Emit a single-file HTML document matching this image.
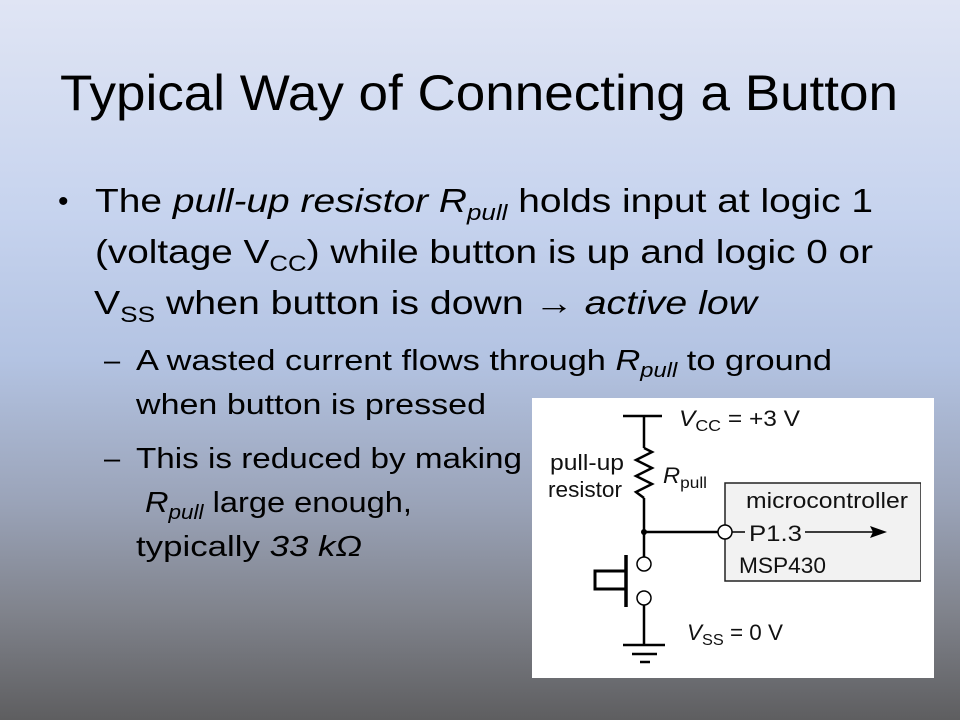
<!DOCTYPE html>
<html><head><meta charset="utf-8"><style>
html,body{margin:0;padding:0;width:960px;height:720px;overflow:hidden}
svg{display:block}
</style></head><body>
<svg width="960" height="720" viewBox="0 0 960 720" xmlns="http://www.w3.org/2000/svg" font-family="Liberation Sans, sans-serif">
<defs>
<linearGradient id="bg" x1="0" y1="0" x2="0" y2="1">
<stop offset="0" stop-color="#e0e5f4"/>
<stop offset="0.3" stop-color="#c6d3ee"/>
<stop offset="0.5" stop-color="#b3c3e2"/>
<stop offset="0.7" stop-color="#9aa3b8"/>
<stop offset="0.85" stop-color="#80838c"/>
<stop offset="1" stop-color="#5e5e60"/>
</linearGradient>
</defs>
<rect width="960" height="720" fill="url(#bg)"/>
<text x="60" y="110" font-size="50" fill="#000" textLength="838" lengthAdjust="spacingAndGlyphs">Typical Way of Connecting a Button</text>
<text x="58" y="211" font-size="30" fill="#000">•</text>
<g font-size="33" fill="#000">
<text x="95" y="212" textLength="778" lengthAdjust="spacingAndGlyphs">The <tspan font-style="italic">pull-up resistor R</tspan><tspan font-style="italic" font-size="22" dy="8">pull</tspan><tspan dy="-8"> holds input at logic 1</tspan></text>
<text x="95" y="263" textLength="778" lengthAdjust="spacingAndGlyphs">(voltage V<tspan font-size="22" dy="8">CC</tspan><tspan dy="-8">) while button is up and logic 0 or</tspan></text>
<text x="94" y="314" textLength="663" lengthAdjust="spacingAndGlyphs">V<tspan font-size="22" dy="8">SS</tspan><tspan dy="-8"> when button is down </tspan><tspan font-weight="bold">→</tspan><tspan> </tspan><tspan font-style="italic">active low</tspan></text>
</g>
<g font-size="29" fill="#000">
<text x="104" y="370">–</text>
<text x="136" y="370" textLength="696" lengthAdjust="spacingAndGlyphs">A wasted current flows through <tspan font-style="italic">R</tspan><tspan font-style="italic" font-size="20" dy="7">pull</tspan><tspan dy="-7"> to ground</tspan></text>
<text x="136" y="414" textLength="350" lengthAdjust="spacingAndGlyphs">when button is pressed</text>
<text x="104" y="468">–</text>
<text x="136" y="468" textLength="386" lengthAdjust="spacingAndGlyphs">This is reduced by making</text>
<text x="145" y="512" textLength="267" lengthAdjust="spacingAndGlyphs"><tspan font-style="italic">R</tspan><tspan font-style="italic" font-size="20" dy="7">pull</tspan><tspan dy="-7"> large enough,</tspan></text>
<text x="136" y="556" textLength="226" lengthAdjust="spacingAndGlyphs">typically <tspan font-style="italic">33 kΩ</tspan></text>
</g>
<!-- circuit -->
<rect x="532" y="398" width="402" height="280" fill="#fff"/>
<g stroke="#000" stroke-width="2.5" fill="none">
<line x1="623" y1="416" x2="662" y2="416"/>
<line x1="644" y1="416" x2="644" y2="448"/>
<polyline points="644,448 652,452 636,460 652,468 636,476 652,484 636,492 644,498"/>
<line x1="644" y1="498" x2="644" y2="557"/>
<line x1="644" y1="532" x2="718" y2="532"/>
<line x1="644" y1="605" x2="644" y2="645"/>
<line x1="623" y1="645" x2="665" y2="645"/>
<line x1="632" y1="654" x2="657" y2="654"/>
<line x1="640" y1="662" x2="650" y2="662"/>
</g>
<rect x="725" y="483" width="196" height="98" fill="#f2f2f2" stroke="#222" stroke-width="1.5"/>
<rect x="921" y="482" width="13" height="100" fill="#fff"/>
<circle cx="644" cy="532" r="3" fill="#000"/>
<circle cx="725" cy="532" r="7" fill="#fff" stroke="#000" stroke-width="1.5"/>
<line x1="732" y1="532" x2="745" y2="532" stroke="#000" stroke-width="1.5"/>
<line x1="805" y1="532" x2="875" y2="532" stroke="#000" stroke-width="1.5"/>
<polygon points="887,532 870,526 873,532 870,538" fill="#000"/>
<circle cx="644" cy="564" r="7" fill="#fff" stroke="#000" stroke-width="1.5"/>
<circle cx="644" cy="598" r="7" fill="#fff" stroke="#000" stroke-width="1.5"/>
<line x1="626" y1="555" x2="626" y2="607" stroke="#000" stroke-width="3.5"/>
<polyline points="626,571 595,571 595,589 626,589" fill="none" stroke="#000" stroke-width="3"/>
<g font-size="22" fill="#111">
<text x="679" y="426" textLength="121" lengthAdjust="spacingAndGlyphs"><tspan font-style="italic">V</tspan><tspan font-size="16" dy="5">CC</tspan><tspan dy="-5"> = +3 V</tspan></text>
<text x="550" y="470" textLength="74" lengthAdjust="spacingAndGlyphs">pull-up</text>
<text x="548" y="497" textLength="74" lengthAdjust="spacingAndGlyphs">resistor</text>
<text x="663" y="483" textLength="44" lengthAdjust="spacingAndGlyphs"><tspan font-style="italic">R</tspan><tspan font-size="16" dy="5">pull</tspan></text>
<text x="746" y="508" textLength="162" lengthAdjust="spacingAndGlyphs">microcontroller</text>
<text x="749" y="541" textLength="53" lengthAdjust="spacingAndGlyphs">P1.3</text>
<text x="739" y="573" textLength="87" lengthAdjust="spacingAndGlyphs">MSP430</text>
<text x="687" y="640" textLength="96" lengthAdjust="spacingAndGlyphs"><tspan font-style="italic">V</tspan><tspan font-size="16" dy="5">SS</tspan><tspan dy="-5"> = 0 V</tspan></text>
</g>
</svg>
</body></html>
